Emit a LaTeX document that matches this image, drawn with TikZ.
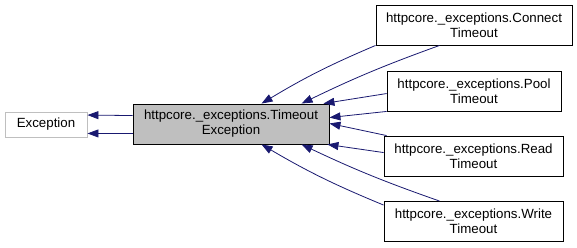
\documentclass[tikz,border=0pt]{standalone}
\usepackage{fontspec}
\setmainfont{Liberation Sans}
\usetikzlibrary{arrows.meta,calc}
\definecolor{edgeblue}{HTML}{191970}
\definecolor{boxgray}{HTML}{BFBFBF}
\begin{document}
\begin{tikzpicture}[x=1pt,y=-1pt,
  cls/.style={draw=black,line width=0.9pt,fill=white,inner sep=0pt,align=center,
    font=\fontsize{13.3}{15}\selectfont,minimum height=40pt},
  inherit/.style={draw=edgeblue,line width=0.8pt,
    {Triangle[length=11pt,width=8pt]}-}]
\useasboundingbox (0,0) rectangle (577,248);
% class boxes
\node[cls,draw=boxgray,minimum width=82pt,minimum height=25pt] (exc) at (46,124.5) {Exception};
\node[cls,fill=boxgray,minimum width=196pt] (tmo) at (231,124) {httpcore.\_exceptions.Timeout\\Exception};
\node[cls,minimum width=196pt] (conn) at (474,25) {httpcore.\_exceptions.Connect\\Timeout};
\node[cls,minimum width=174pt] (pool) at (474,91) {httpcore.\_exceptions.Pool\\Timeout};
\node[cls,minimum width=179pt] (read) at (473.5,156) {httpcore.\_exceptions.Read\\Timeout};
\node[cls,minimum width=179pt] (write) at (473.5,221.5) {httpcore.\_exceptions.Write\\Timeout};
% inheritance edges
\draw[inherit] ($(exc.north east)+(0,3.5)$) -- ($(tmo.north west)+(0,12)$);
\draw[inherit] ($(exc.south east)+(0,-4)$) -- ($(tmo.south west)+(0,-11)$);
\draw[inherit] ($(tmo.north west)+(129,0)$) to[bend left=4] (conn.south west);
\draw[inherit] ($(tmo.north west)+(169,0)$) to[bend left=3] ($(conn.south west)+(64,0)$);
\draw[inherit] ($(tmo.north east)+(-6,0)$) -- ($(pool.north west)+(0,23)$);
\draw[inherit] ($(tmo.north east)+(0,14)$) -- (pool.south west);
\draw[inherit] ($(tmo.south east)+(0,-21)$) -- ($(read.north west)+(3,0)$);
\draw[inherit] ($(tmo.south east)+(-2,0)$) -- ($(read.north west)+(0,17)$);
\draw[inherit] ($(tmo.south west)+(129,0)$) to[bend right=4] ($(write.north west)+(0,4)$);
\draw[inherit] ($(tmo.south west)+(169,0)$) to[bend right=3] ($(write.north west)+(56,0)$);
\end{tikzpicture}
\end{document}
